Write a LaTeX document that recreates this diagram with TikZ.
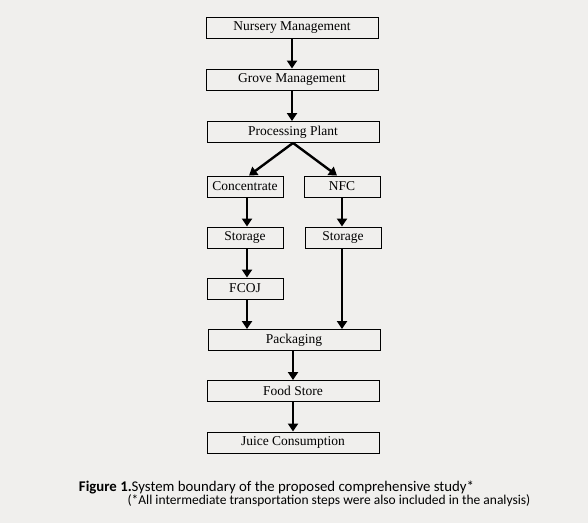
\documentclass[tikz,border=0pt]{standalone}
\usepackage{fontspec}
\setmainfont{Liberation Serif}
\newfontfamily\capfont{Carlito}
\usetikzlibrary{arrows.meta}
\definecolor{paper}{HTML}{F0EFED}
\tikzset{
    stage/.style={draw, line width=0.9pt, fill=paper, inner sep=0pt,
        minimum height=21pt, font=\fontsize{13.5}{15}\selectfont},
    wide/.style={stage, minimum width=172pt},
    narrow/.style={stage, minimum width=76pt},
    flow/.style={line width=2.4pt, -{Triangle[length=8pt,width=10pt]}}
}
\begin{document}
\begin{tikzpicture}[x=1pt, y=-1pt]
            \fill[paper] (0,0) rectangle (588,523);
            \useasboundingbox (0,0) rectangle (588,523);

            \node[wide]   (nursery) at (292, 27.5) {Nursery Management};
            \node[wide]   (grove)   at (292, 79.5) {Grove Management};
            \node[wide]   (plant)   at (293,132)   {Processing Plant};
            \node[narrow] (conc)    at (245,186.5) {Concentrate};
            \node[narrow] (nfc)     at (342,186.5) {NFC};
            \node[narrow] (storel)  at (245,237.5) {Storage};
            \node[narrow] (storer)  at (343,237.5) {Storage};
            \node[narrow] (fcoj)    at (245,288.5) {FCOJ};
            \node[wide]   (pack)    at (294,340)   {Packaging};
            \node[wide]   (food)    at (293,391)   {Food Store};
            \node[wide]   (juice)   at (293,442.5) {Juice Consumption};

            \draw[flow] (nursery) -- (grove);
            \draw[flow] (grove) -- (plant.north -| grove.south);
            \draw[flow] (plant.south) -- ([xshift=4]conc.north);
            \draw[flow] (plant.south) -- ([xshift=-5]nfc.north);
            \draw[flow] ([xshift=2]conc.south) -- ([xshift=2]storel.north);
            \draw[flow] ([xshift=2]storel.south) -- ([xshift=2]fcoj.north);
            \draw[flow] ([xshift=2]fcoj.south) -- ([xshift=2]fcoj.south |- pack.north);
            \draw[flow] (nfc.south) -- (storer.north -| nfc.south);
            \draw[flow] (storer.south -| nfc.south) -- (nfc.south |- pack.north);
            \draw[flow] (pack.south -| food) -- (food);
            \draw[flow] (food) -- (juice);

            \node[font=\capfont\fontsize{14.8}{17}\selectfont] (cap1) at (276.5,487)
                {\textbf{Figure 1.}System boundary of the proposed comprehensive study*};
            \node[font=\capfont\fontsize{13.5}{15}\selectfont] (cap2) at (329,500.5)
                {(*All intermediate transportation steps were also included in the analysis)};

        \end{tikzpicture}
\end{document}
